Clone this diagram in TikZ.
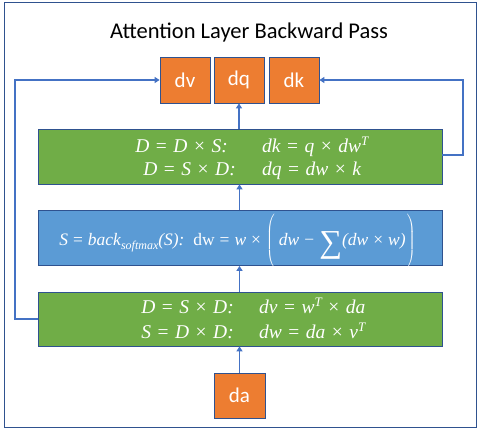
\documentclass[tikz,border=0pt]{standalone}
\usepackage{fontspec}
\setmainfont{Carlito}
\newfontfamily\mf{Liberation Serif}
\usetikzlibrary{arrows.meta}
\definecolor{borange}{HTML}{ED7D31}
\definecolor{bgreen}{HTML}{70AD47}
\definecolor{bblue}{HTML}{5B9BD5}
\definecolor{bedge}{HTML}{2F528F}
\definecolor{bline}{HTML}{4472C4}
\newcommand{\supT}{\raisebox{6.5pt}{\fontsize{13}{13}\selectfont T}}
\newcommand{\mrel}[1]{\hspace{6.5pt}{\upshape #1}\hspace{6.5pt}}
\newcommand{\brel}[1]{\hspace{5pt}{\upshape #1}\hspace{5pt}}
\begin{document}
\begin{tikzpicture}[x=1pt,y=-1pt,
  obox/.style={draw=bedge,line width=0.8pt,fill=borange,text=white,minimum width=50pt,minimum height=46pt,inner sep=0pt,font=\fontsize{21}{24}\selectfont},
  wide/.style={draw=bedge,line width=0.8pt,minimum width=404pt,minimum height=55pt,inner sep=0pt},
  mtext/.style={text=white,inner sep=0pt,font=\mf\itshape\fontsize{19.5}{24}\selectfont},
  conn/.style={draw=bline,line width=1.3pt,-{Triangle[width=6pt,length=5pt]}}]
\useasboundingbox (0,0) rectangle (480,432);
\node[draw=bedge,line width=0.8pt,minimum width=472pt,minimum height=425pt,inner sep=0pt] (frame) at (240,214.5) {};
\node[font=\fontsize{22.5}{26}\selectfont] (title) at (249,32) {Attention Layer Backward Pass};
\node[obox] (dv) at (185,80) {dv};
\node[obox] (dq) at (239,80) {dq};
\node[obox] (dk) at (294,80) {dk};
\node[wide,fill=bgreen] (g1) at (240,156.5) {};
\node[wide,fill=bblue] (bl) at (240,238) {};
\node[wide,fill=bgreen,minimum height=54pt] (g2) at (240,319) {};
\node[obox,minimum width=51pt,minimum height=45pt] (da) at (239.5,395.5) {da};
% green box 1
\node[mtext,anchor=base east] (g1a) at (228,152) {D\mrel{=}D\mrel{×}S:};
\node[mtext,anchor=base west] (g1b) at (262,152) {dk\mrel{=}q\mrel{×}dw\supT};
\node[mtext,anchor=base east] (g1c) at (236,175) {D\mrel{=}S\mrel{×}D:};
\node[mtext,anchor=base west] (g1d) at (262,175) {dq\mrel{=}dw\mrel{×}k};
% blue box
\node[mtext,anchor=base,font=\mf\itshape\fontsize{17.5}{20}\selectfont] (blt) at (237.5,245) {S\brel{=}back\raisebox{-4pt}{\fontsize{12}{12}\selectfont softmax}(S):\ \ {\upshape dw}\brel{=}w\brel{×}$\left(\rule[-25pt]{0pt}{56pt}\right.$\,dw\brel{−}\raisebox{-7pt}{\fontsize{32}{32}\selectfont\upshape ∑}(dw\brel{×}w)$\left.\rule[-25pt]{0pt}{56pt}\right)$};
% green box 2
\node[mtext,anchor=base east] (g2a) at (234,313) {D\mrel{=}S\mrel{×}D:};
\node[mtext,anchor=base west] (g2b) at (259,313) {dv\mrel{=}w\supT\mrel{×}da};
\node[mtext,anchor=base east] (g2c) at (234,338) {S\mrel{=}D\mrel{×}D:};
\node[mtext,anchor=base west] (g2d) at (259,338) {dw\mrel{=}da\mrel{×}v\supT};
\draw[conn] (da.north) -- (g2.south -| da.north);
\draw[conn] (g2.north -| da.north) -- (bl.south -| da.north);
\draw[conn] (bl.north -| da.north) -- (g1.south -| da.north);
\draw[conn] (g1.north -| dq.south) -- (dq.south);
\coordinate (lc1) at (15,319);
\coordinate (lc2) at (15,80);
\coordinate (rc1) at (463,155);
\coordinate (rc2) at (463,80);
\draw[conn] (g2.west) -- (lc1) -- (lc2) -- (dv.west);
\draw[conn] (g1.east |- rc1) -- (rc1) -- (rc2) -- (dk.east);
\end{tikzpicture}
\end{document}
